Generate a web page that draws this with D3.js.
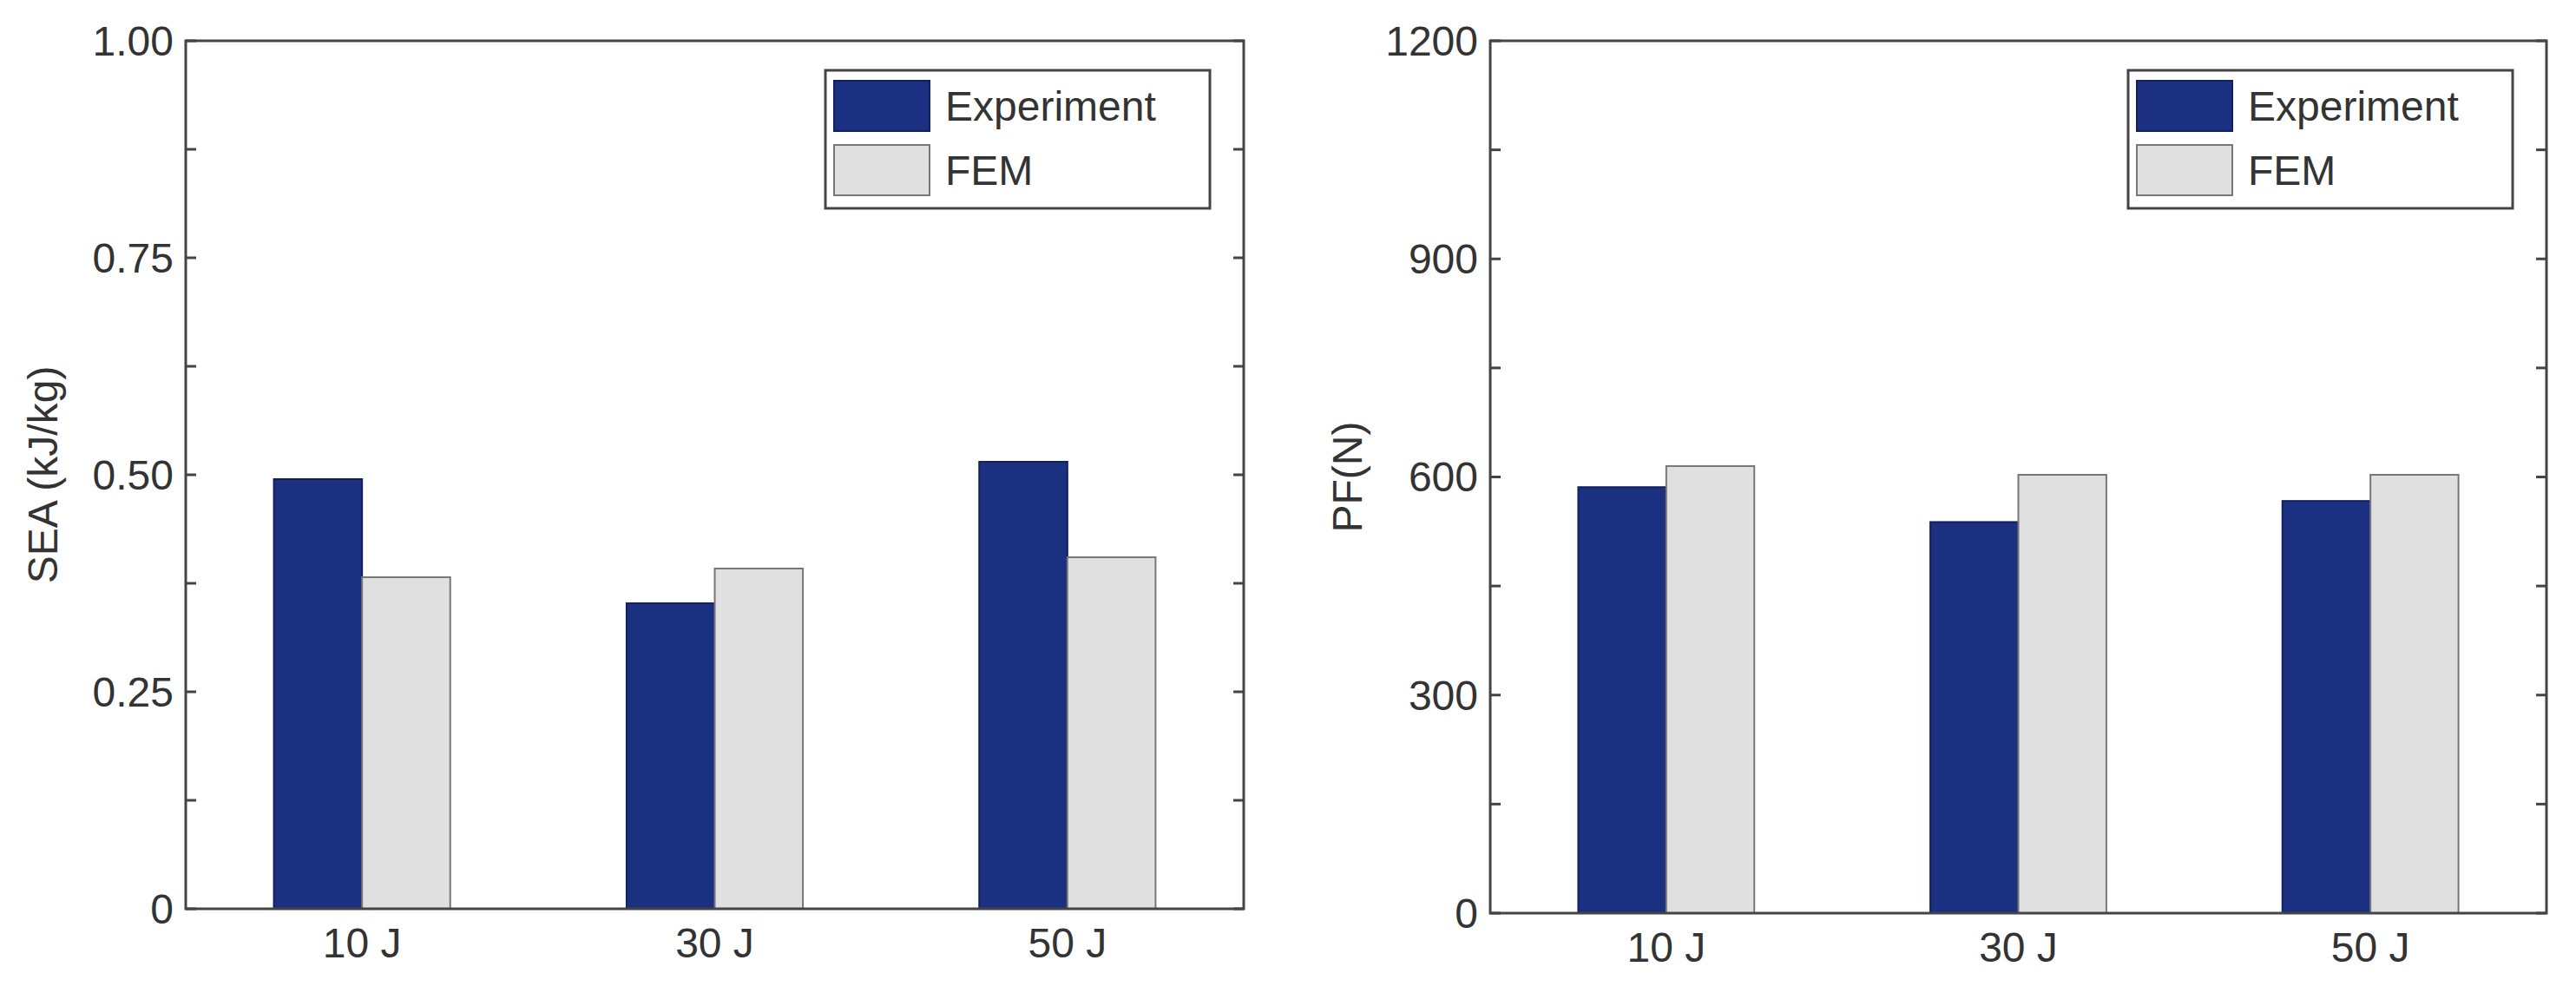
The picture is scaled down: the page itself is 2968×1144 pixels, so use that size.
<!DOCTYPE html><html><head><meta charset="utf-8">
<script src="https://cdn.jsdelivr.net/npm/d3@7"></script>
<style>body{margin:0;background:#fff}svg{display:block}text{font-family:"Liberation Sans",Arial,sans-serif;fill:#333}</style></head><body>
<svg id="c" width="2968" height="1144"></svg>
<script>
const categories=["10 J","30 J","50 J"];
const seriesNames=["Experiment","FEM"];
const seaExperiment=[0.495,0.352,0.515];
const seaFEM=[0.382,0.392,0.405];
const pfExperiment=[586,538,567];
const pfFEM=[615,603,603];
const seaTicks=[0,0.25,0.5,0.75,1.0];
const seaTickLabels=["0","0.25","0.50","0.75","1.00"];
const pfTicks=[0,300,600,900,1200];
const pfTickLabels=["0","300","600","900","1200"];
const colors=["#1b3080","#dfe0df"];
const svg=d3.select("#c");
function panel(x0,x1,y0,y1,ymax,ticks,labels,minor,ylabel,exp,fem){
  const g=svg.append("g");
  const x=d3.scaleBand().domain(categories).range([x0,x1]);
  const y=d3.scaleLinear().domain([0,ymax]).range([y1,y0]);
  const inner=d3.scaleBand().domain(seriesNames).range([0,x.bandwidth()*0.5]);
  const data=[exp,fem];
  categories.forEach((c,i)=>{
    seriesNames.forEach((s,j)=>{
      g.append("rect").attr("x",x(c)+x.bandwidth()*0.25+inner(s)).attr("width",inner.bandwidth())
       .attr("y",y(data[j][i])).attr("height",y(0)-y(data[j][i]))
       .attr("fill",colors[j]).attr("stroke",j?"#777":"#122060").attr("stroke-width",2);
    });
  });
  g.append("rect").attr("x",x0).attr("y",y0).attr("width",x1-x0).attr("height",y1-y0).attr("fill","none").attr("stroke","#444").attr("stroke-width",3);
  const all=[...ticks,...minor];
  all.forEach(t=>{
    g.append("line").attr("x1",x0).attr("x2",x0+12).attr("y1",y(t)).attr("y2",y(t)).attr("stroke","#444").attr("stroke-width",3);
    g.append("line").attr("x1",x1).attr("x2",x1-12).attr("y1",y(t)).attr("y2",y(t)).attr("stroke","#444").attr("stroke-width",3);
  });
  ticks.forEach((t,i)=>g.append("text").attr("x",x0-14).attr("y",y(t)).attr("dy","0.35em").attr("text-anchor","end").attr("font-size",48).text(labels[i]));
  categories.forEach(c=>g.append("text").attr("x",x(c)+x.bandwidth()/2).attr("y",y1+56).attr("text-anchor","middle").attr("font-size",48).text(c));
  g.append("text").attr("transform",`translate(${x0-165},${(y0+y1)/2}) rotate(-90)`).attr("text-anchor","middle").attr("font-size",48).attr("dy","0.35em").text(ylabel);
  const lx=x1-482,ly=y0+34;
  g.append("rect").attr("x",lx).attr("y",ly).attr("width",443).attr("height",159).attr("fill","#fff").attr("stroke","#444").attr("stroke-width",3);
  seriesNames.forEach((s,j)=>{
    g.append("rect").attr("x",lx+10).attr("y",ly+12+j*74).attr("width",110).attr("height",58).attr("fill",colors[j]).attr("stroke",j?"#777":"#122060").attr("stroke-width",2);
    g.append("text").attr("x",lx+138).attr("y",ly+41+j*74).attr("dy","0.35em").attr("font-size",48).text(s);
  });
}
panel(214,1433,47,1047,1.0,seaTicks,seaTickLabels,[0.125,0.375,0.625,0.875],"SEA (kJ/kg)",seaExperiment,seaFEM);
panel(1717,2934,47,1052,1200,pfTicks,pfTickLabels,[150,450,750,1050],"PF(N)",pfExperiment,pfFEM);
</script></body></html>
